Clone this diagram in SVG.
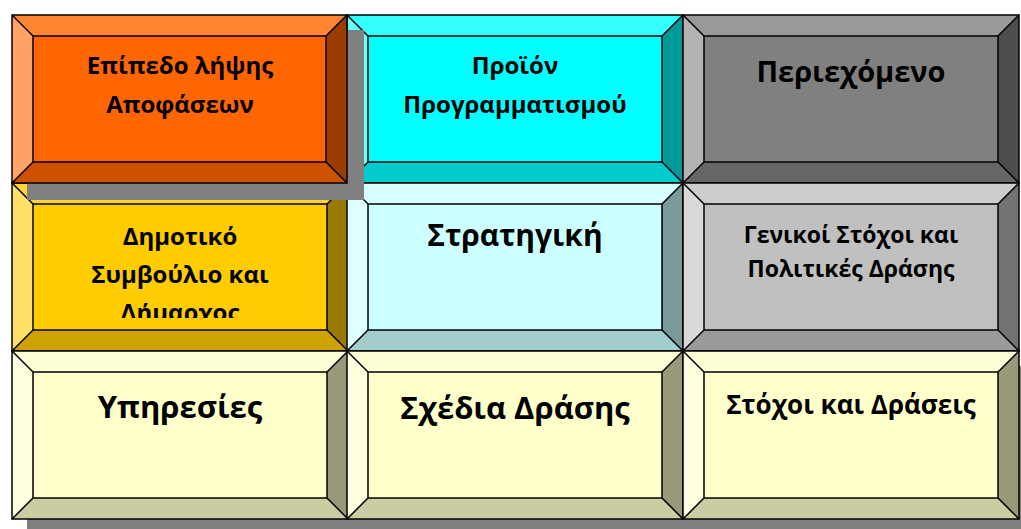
<svg xmlns="http://www.w3.org/2000/svg" width="1021" height="529" viewBox="0 0 1021 529">
<style>
.ol{fill:none;stroke:#000;stroke-width:1.5;stroke-linejoin:miter}
.sh{fill:#808080}
text{font-family:"Open Sans","Noto Sans","DejaVu Sans",sans-serif;font-weight:700;fill:#000;text-anchor:middle}
.n1 .f{fill:#FF6600}.n1 .t{fill:#FF8533}.n1 .l{fill:#FFA366}.n1 .r{fill:#993D00}.n1 .b{fill:#CC5200}
.n2 .f{fill:#00FFFF}.n2 .t{fill:#33FFFF}.n2 .l{fill:#66FFFF}.n2 .r{fill:#009999}.n2 .b{fill:#00CCCC}
.n3 .f{fill:#808080}.n3 .t{fill:#999999}.n3 .l{fill:#B3B3B3}.n3 .r{fill:#4D4D4D}.n3 .b{fill:#666666}
.n4 .f{fill:#FFCC00}.n4 .t{fill:#FFD633}.n4 .l{fill:#FFE066}.n4 .r{fill:#997A00}.n4 .b{fill:#CCA300}
.n5 .f{fill:#CCFFFF}.n5 .t{fill:#D6FFFF}.n5 .l{fill:#E0FFFF}.n5 .r{fill:#7A9999}.n5 .b{fill:#A3CCCC}
.n6 .f{fill:#C0C0C0}.n6 .t{fill:#CDCDCD}.n6 .l{fill:#D9D9D9}.n6 .r{fill:#737373}.n6 .b{fill:#9A9A9A}
.n7 .f,.n8 .f,.n9 .f{fill:#FFFFCC}.n7 .t,.n8 .t,.n9 .t{fill:#FFFFD6}.n7 .l,.n8 .l,.n9 .l{fill:#FFFFE0}.n7 .r,.n8 .r,.n9 .r{fill:#99997A}.n7 .b,.n8 .b,.n9 .b{fill:#CCCCA3}
</style>
<defs>
<g id="bevel">
<rect class="f" x="21" y="21" width="294" height="126"/>
<polygon class="t" points="0,0 336,0 315,21 21,21"/>
<polygon class="r" points="336,0 336,168 315,147 315,21"/>
<polygon class="b" points="0,168 336,168 315,147 21,147"/>
<polygon class="l" points="0,0 0,168 21,147 21,21"/>
<rect class="ol" x="0" y="0" width="336" height="168"/>
<rect class="ol" x="21" y="21" width="294" height="126"/>
<path class="ol" d="M0,0L21,21M336,0L315,21M336,168L315,147M0,168L21,147"/>
</g>
<clipPath id="clip4"><rect x="0" y="0" width="336" height="135"/></clipPath>
</defs>
<rect class="sh" x="27" y="366" width="1010" height="170"/>
<g id="node-programme" class="n2" transform="translate(347,15)">
<rect class="f" x="21" y="21" width="294" height="126"/>
<polygon class="t" points="0,0 336,0 315,21 21,21"/>
<polygon class="r" points="336,0 336,168 315,147 315,21"/>
<polygon class="b" points="0,168 336,168 315,147 21,147"/>
<polygon class="l" points="0,0 0,168 21,147 21,21"/>
<rect class="ol" x="0" y="0" width="336" height="168"/>
<rect class="ol" x="21" y="21" width="294" height="126"/>
<path class="ol" d="M0,0L21,21M336,0L315,21M336,168L315,147M0,168L21,147"/>
<text x="168" y="59" font-size="24">Προϊόν</text>
<text x="168" y="98" font-size="24">Προγραμματισμού</text>
</g>
<g id="node-content" class="n3" transform="translate(683,15)">
<rect class="f" x="21" y="21" width="294" height="126"/>
<polygon class="t" points="0,0 336,0 315,21 21,21"/>
<polygon class="r" points="336,0 336,168 315,147 315,21"/>
<polygon class="b" points="0,168 336,168 315,147 21,147"/>
<polygon class="l" points="0,0 0,168 21,147 21,21"/>
<rect class="ol" x="0" y="0" width="336" height="168"/>
<rect class="ol" x="21" y="21" width="294" height="126"/>
<path class="ol" d="M0,0L21,21M336,0L315,21M336,168L315,147M0,168L21,147"/>
<text x="168" y="67" font-size="29">Περιεχόμενο</text>
</g>
<g id="node-council" class="n4" transform="translate(12,183)">
<rect class="f" x="21" y="21" width="294" height="126"/>
<polygon class="t" points="0,0 336,0 315,21 21,21"/>
<polygon class="r" points="336,0 336,168 315,147 315,21"/>
<polygon class="b" points="0,168 336,168 315,147 21,147"/>
<polygon class="l" points="0,0 0,168 21,147 21,21"/>
<rect class="ol" x="0" y="0" width="336" height="168"/>
<rect class="ol" x="21" y="21" width="294" height="126"/>
<path class="ol" d="M0,0L21,21M336,0L315,21M336,168L315,147M0,168L21,147"/>
<g clip-path="url(#clip4)">
<text x="168" y="62" font-size="24">Δημοτικό</text>
<text x="168" y="100" font-size="24">Συμβούλιο και</text>
<text x="168" y="138" font-size="24">Δήμαρχος</text>
</g>
</g>
<g id="node-strategy" class="n5" transform="translate(347,183)">
<rect class="f" x="21" y="21" width="294" height="126"/>
<polygon class="t" points="0,0 336,0 315,21 21,21"/>
<polygon class="r" points="336,0 336,168 315,147 315,21"/>
<polygon class="b" points="0,168 336,168 315,147 21,147"/>
<polygon class="l" points="0,0 0,168 21,147 21,21"/>
<rect class="ol" x="0" y="0" width="336" height="168"/>
<rect class="ol" x="21" y="21" width="294" height="126"/>
<path class="ol" d="M0,0L21,21M336,0L315,21M336,168L315,147M0,168L21,147"/>
<text x="168" y="63" font-size="30">Στρατηγική</text>
</g>
<g id="node-goals" class="n6" transform="translate(683,183)">
<rect class="f" x="21" y="21" width="294" height="126"/>
<polygon class="t" points="0,0 336,0 315,21 21,21"/>
<polygon class="r" points="336,0 336,168 315,147 315,21"/>
<polygon class="b" points="0,168 336,168 315,147 21,147"/>
<polygon class="l" points="0,0 0,168 21,147 21,21"/>
<rect class="ol" x="0" y="0" width="336" height="168"/>
<rect class="ol" x="21" y="21" width="294" height="126"/>
<path class="ol" d="M0,0L21,21M336,0L315,21M336,168L315,147M0,168L21,147"/>
<text x="168" y="60" font-size="23">Γενικοί Στόχοι και</text>
<text x="168" y="94" font-size="23">Πολιτικές Δράσης</text>
</g>
<g id="node-services" class="n7" transform="translate(12,351)">
<rect class="f" x="21" y="21" width="294" height="126"/>
<polygon class="t" points="0,0 336,0 315,21 21,21"/>
<polygon class="r" points="336,0 336,168 315,147 315,21"/>
<polygon class="b" points="0,168 336,168 315,147 21,147"/>
<polygon class="l" points="0,0 0,168 21,147 21,21"/>
<rect class="ol" x="0" y="0" width="336" height="168"/>
<rect class="ol" x="21" y="21" width="294" height="126"/>
<path class="ol" d="M0,0L21,21M336,0L315,21M336,168L315,147M0,168L21,147"/>
<text x="168" y="67" font-size="31">Υπηρεσίες</text>
</g>
<g id="node-plans" class="n8" transform="translate(347,351)">
<rect class="f" x="21" y="21" width="294" height="126"/>
<polygon class="t" points="0,0 336,0 315,21 21,21"/>
<polygon class="r" points="336,0 336,168 315,147 315,21"/>
<polygon class="b" points="0,168 336,168 315,147 21,147"/>
<polygon class="l" points="0,0 0,168 21,147 21,21"/>
<rect class="ol" x="0" y="0" width="336" height="168"/>
<rect class="ol" x="21" y="21" width="294" height="126"/>
<path class="ol" d="M0,0L21,21M336,0L315,21M336,168L315,147M0,168L21,147"/>
<text x="168" y="68" font-size="31">Σχέδια Δράσης</text>
</g>
<g id="node-actions" class="n9" transform="translate(683,351)">
<rect class="f" x="21" y="21" width="294" height="126"/>
<polygon class="t" points="0,0 336,0 315,21 21,21"/>
<polygon class="r" points="336,0 336,168 315,147 315,21"/>
<polygon class="b" points="0,168 336,168 315,147 21,147"/>
<polygon class="l" points="0,0 0,168 21,147 21,21"/>
<rect class="ol" x="0" y="0" width="336" height="168"/>
<rect class="ol" x="21" y="21" width="294" height="126"/>
<path class="ol" d="M0,0L21,21M336,0L315,21M336,168L315,147M0,168L21,147"/>
<text x="168" y="63" font-size="26">Στόχοι και Δράσεις</text>
</g>
<rect class="sh" x="27" y="30" width="337" height="170"/>
<g id="node-decision" class="n1" transform="translate(12,15)">
<rect class="f" x="21" y="21" width="294" height="126"/>
<polygon class="t" points="0,0 335,0 314,21 21,21"/>
<polygon class="r" points="335,0 335,168 314,147 314,21"/>
<polygon class="b" points="0,168 335,168 314,147 21,147"/>
<polygon class="l" points="0,0 0,168 21,147 21,21"/>
<rect class="ol" x="0" y="0" width="335" height="168"/>
<rect class="ol" x="21" y="21" width="293" height="126"/>
<path class="ol" d="M0,0L21,21M335,0L314,21M335,168L314,147M0,168L21,147"/>
<text x="168" y="59" font-size="24">Επίπεδο λήψης</text>
<text x="168" y="98" font-size="24">Αποφάσεων</text>
</g>
<g id="connectors"/>
</svg>
